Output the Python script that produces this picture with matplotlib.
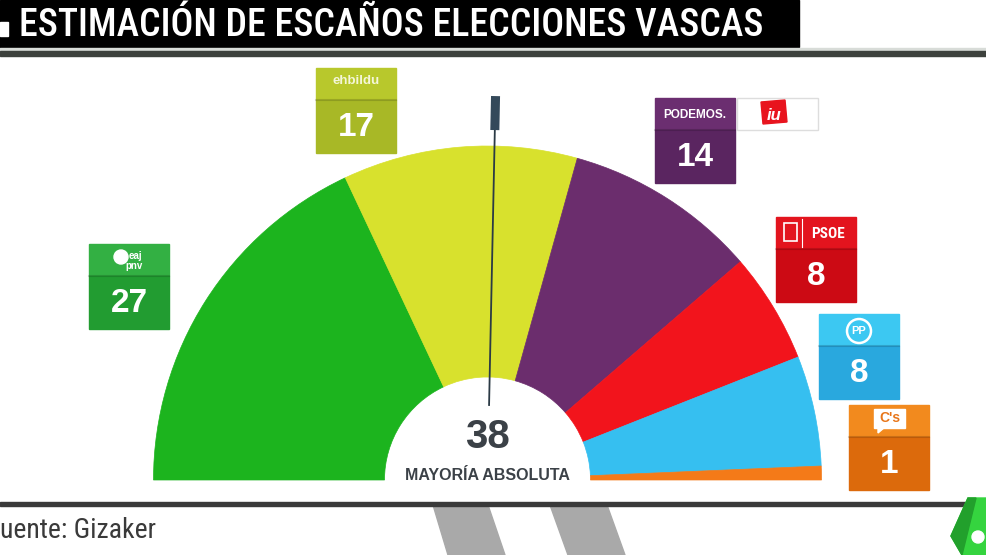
import numpy as np
import matplotlib
matplotlib.use("Agg")
import matplotlib.pyplot as plt
from matplotlib.patches import Wedge, Rectangle, Polygon, Circle

# seats per party (Gizaker estimate)
parties = ["EAJ-PNV", "EH Bildu", "Podemos-IU", "PSOE", "PP", "C's"]
seats = [27, 17, 14, 8, 8, 1]
majority = 38
title = "ESTIMACIÓN DE ESCAÑOS ELECCIONES VASCAS"
source = "uente: Gizaker"
majority_label = "MAYORÍA ABSOLUTA"

wedge_colors = ["#1cb41e", "#d8e12d", "#6b2d6d", "#f2141c", "#36bff0", "#f47a18"]
head_colors = ["#33b043", "#b8c82c", "#6b2e70", "#e3141e", "#3cc8f2", "#f28a1e"]
body_colors = ["#229c31", "#a8b826", "#5a2560", "#cc0a14", "#29a8de", "#dc6a0c"]
# top-left corner of each label box (pixels)
box_pos = [(89, 244), (316, 68), (655, 98), (776, 217), (819, 314), (849, 405)]
BOX_W, BOX_H, HEAD_H = 80, 85, 32

W, H = 987, 555
CX, CY = 487.5, 480
R_OUT, R_IN = 334, 103

fig = plt.figure(figsize=(W / 100, H / 100), dpi=100)
ax = fig.add_axes([0, 0, 1, 1])
ax.set_xlim(0, W)
ax.set_ylim(H, 0)
ax.axis("off")

narrow = ["Roboto Condensed", "IBM Plex Sans Condensed", "DejaVu Sans"]
sans = ["Liberation Sans", "DejaVu Sans"]

# header bar
ax.add_patch(Rectangle((0, 0), 799, 47, color="black", zorder=2))
ax.add_patch(Rectangle((0, 22), 8, 14, color="white", zorder=3))
t = ax.text(19, 25, title, color="white", fontsize=27, family=narrow,
            fontweight=500, va="center", ha="left", zorder=3)
ax.add_patch(Rectangle((0, 47.5), W, 2.5, color="#d8dcd8", zorder=2))
ax.add_patch(Rectangle((0, 51), W, 5, color="#3d413d", zorder=2))

# fit title width to the bar as in the reference
fig.canvas.draw()
bb = t.get_window_extent()
t.set_fontsize(27 * 746 / bb.width)

# half donut
total = sum(seats)
start = 180.0
for n, c in zip(seats, wedge_colors):
    span = 180.0 * n / total
    end = start - span
    ax.add_patch(Wedge((CX, CY), R_OUT, -start, -end, width=R_OUT - R_IN,
                       facecolor=c, edgecolor=c, lw=0.5, zorder=2))
    start = end

# majority needle
a = np.radians(180.0 - 180.0 * majority / total)
ax.plot([CX + 75 * np.cos(a), CX + 352 * np.cos(a)],
        [CY - 75 * np.sin(a), CY - 352 * np.sin(a)],
        color="#2b3a45", lw=1.3, zorder=4)
ax.plot([CX + 350 * np.cos(a), CX + 384 * np.cos(a)],
        [CY - 350 * np.sin(a), CY - 384 * np.sin(a)],
        color="#34495a", lw=6.5, solid_capstyle="butt", zorder=4)

ax.text(CX, 437, str(majority), color="#3b4147", fontsize=29, fontweight="bold",
        family=sans, ha="center", va="center", zorder=5)
ax.text(CX, 475, majority_label, color="#3b4147", fontsize=11.5, fontweight="bold",
        family=sans, ha="center", va="center", zorder=5)

# label boxes
for (x, y), n, hc, bc in zip(box_pos, seats, head_colors, body_colors):
    ax.add_patch(Rectangle((x, y), BOX_W, HEAD_H, color=hc, zorder=3))
    ax.add_patch(Rectangle((x, y + HEAD_H), BOX_W, BOX_H - HEAD_H, color=bc, zorder=3))
    ax.plot([x, x + BOX_W], [y + HEAD_H, y + HEAD_H], color="#000000", alpha=0.15,
            lw=1.5, zorder=4)
    ax.text(x + BOX_W / 2, y + HEAD_H + (BOX_H - HEAD_H) / 2 + 1, str(n),
            color="white", fontsize=24, fontweight="bold", family=sans,
            ha="center", va="center", zorder=5)

# party marks in the box headers
x, y = box_pos[0]
ax.add_patch(Circle((x + 32, y + 13), 7, color="white", zorder=5))
ax.text(x + 40, y + 12, "eaj", color="white", fontsize=7, fontweight="bold",
        family=sans, ha="left", va="center", zorder=5)
ax.text(x + 36, y + 22, "pnv", color="white", fontsize=7, fontweight="bold",
        family=sans, ha="left", va="center", zorder=5)
x, y = box_pos[1]
ax.text(x + BOX_W / 2, y + 13, "ehbildu", color="#f4f6d8", fontsize=9.5,
        fontweight="bold", family=sans, ha="center", va="center", zorder=5)
x, y = box_pos[2]
ax.text(x + BOX_W / 2, y + 17, "PODEMOS.", color="white", fontsize=8.5,
        fontweight="bold", family=sans, ha="center", va="center", zorder=5)
ax.add_patch(Rectangle((x + 82, y), 81, HEAD_H, fc="white", ec="#dddddd",
                       lw=1, zorder=3))
ax.add_patch(Polygon([(x + 106, y + 4), (x + 130, y + 2), (x + 132, y + 24),
                      (x + 108, y + 26)], color="#e8141e", zorder=4))
ax.text(x + 119, y + 17, "iu", color="white", fontsize=12, fontweight="bold",
        style="italic", family=sans, ha="center", va="center", zorder=5)
x, y = box_pos[3]
ax.add_patch(Rectangle((x + 8, y + 6), 13, 18, fill=False, ec="white", lw=1.2, zorder=5))
ax.plot([x + 26, x + 26], [y + 2, y + 30], color="white", lw=0.8, zorder=5)
ax.text(x + 52, y + 17, "PSOE", color="white", fontsize=11, fontweight="bold",
        family=narrow, ha="center", va="center", zorder=5)
x, y = box_pos[4]
ax.add_patch(Circle((x + BOX_W / 2, y + 17), 12, fill=False, ec="white", lw=1.8, zorder=5))
ax.text(x + BOX_W / 2, y + 17, "PP", color="white", fontsize=8, fontweight="bold",
        family=sans, ha="center", va="center", zorder=5)
x, y = box_pos[5]
ax.add_patch(Rectangle((x + 25, y + 4), 31, 19, color="white", zorder=5))
ax.add_patch(Polygon([(x + 29, y + 22), (x + 36, y + 22), (x + 29, y + 28)],
                     color="white", zorder=5))
ax.text(x + 40.5, y + 13.5, "C's", color="#e8761a", fontsize=10, fontweight="bold",
        family=sans, ha="center", va="center", zorder=6)

# footer
ax.add_patch(Rectangle((0, 502), 965, 3.5, color="#3a3a3a", zorder=2))
ax.add_patch(Polygon([(433, 505), (488, 505), (505, 555), (448, 555)],
                     color="#a9a9a9", zorder=1))
ax.add_patch(Polygon([(550, 505), (607, 505), (625, 555), (568, 555)],
                     color="#a9a9a9", zorder=1))
ax.add_patch(Polygon([(968, 498), (987, 498), (987, 555), (962, 555), (951, 536)],
                     color="#35d43f", zorder=2))
ax.add_patch(Polygon([(968, 498), (976, 498), (962, 555), (951, 536)],
                     color="#22a02c", zorder=3))
ax.add_patch(Circle((978, 537), 6, color="white", zorder=4))
ax.text(0, 530, source, color="#3a3a3a", fontsize=20, family=narrow,
        ha="left", va="center", zorder=3)

fig.savefig("out.png", dpi=100)
